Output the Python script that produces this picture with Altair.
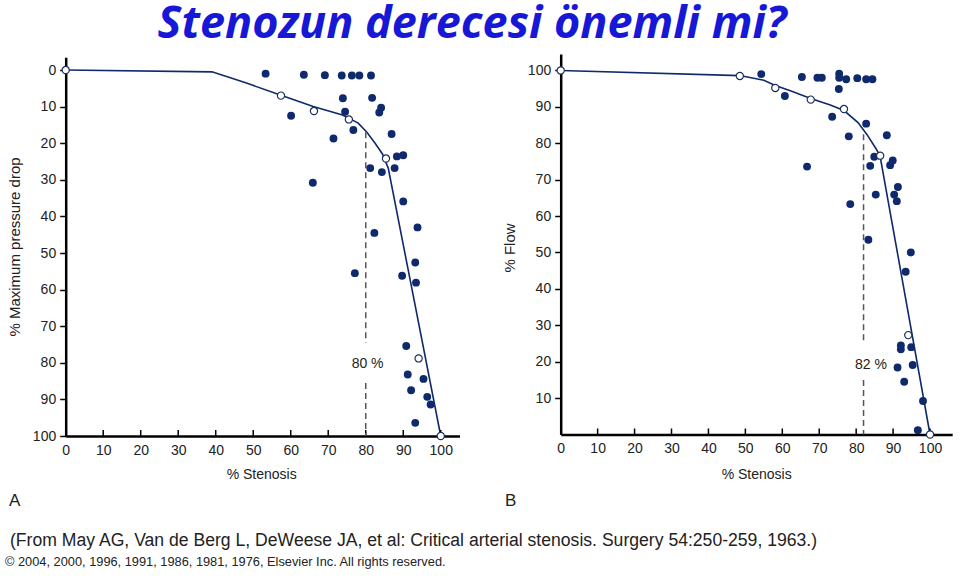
import altair as alt
import pandas as pd

# ---------------- data ----------------
# Panel A: % Stenosis vs % Maximum pressure drop
a_pts_x = [53.3, 63.5, 69.1, 73.6, 76.3, 78.3, 81.4, 73.9, 81.7, 60.1, 74.5, 84.1, 83.6, 76.7, 71.4, 86.9,
           88.3, 90.0, 81.2, 84.3, 87.7, 65.9, 90.0, 93.8, 82.3, 77.1, 89.7, 93.2, 93.4, 90.8, 91.2, 92.1,
           95.4, 96.4, 97.3, 93.2]
a_pts_y = [1.0, 1.3, 1.4, 1.5, 1.5, 1.5, 1.5, 7.7, 7.6, 12.5, 11.4, 10.3, 11.6, 16.4, 18.7, 17.5,
           23.6, 23.3, 26.8, 27.9, 26.8, 30.8, 35.9, 43.0, 44.5, 55.5, 56.2, 52.6, 58.1, 75.4, 83.2, 87.5,
           84.4, 89.3, 91.4, 96.4]
a_open_x = [0, 57.4, 66.2, 75.5, 85.4, 94.1, 100]
a_open_y = [0, 7.0, 11.2, 13.5, 24.2, 78.8, 100]
a_line_x = [0, 39, 48, 57.4, 66, 73.8, 78, 80.3, 82.5, 84.5, 86, 100]
a_line_y = [0, 0.5, 3.5, 6.9, 10.0, 12.3, 14.5, 17.0, 20.0, 23.0, 26.8, 100]
a_crit = 80
a_dash_y = [[17.0, 74.5], [85.5, 100]]
a_label = "80 %"
a_label_pos = (80.5, 80.4)

# Panel B: % Stenosis vs % Flow
b_pts_x = [54.3, 65.3, 69.5, 70.7, 75.4, 75.4, 77.3, 80.3, 82.7, 84.4, 75.3, 60.7, 73.5, 82.7, 78.0, 88.3,
           66.7, 84.9, 83.8, 89.2, 89.9, 91.3, 90.3, 91.0, 85.3, 78.4, 83.3, 94.8, 93.4, 92.1, 92.1, 94.9,
           91.2, 95.3, 93.0, 98.1, 96.7]
b_pts_y = [99.0, 98.2, 98.0, 98.0, 99.1, 98.0, 97.6, 97.9, 97.6, 97.6, 94.9, 93.0, 87.3, 85.4, 81.9, 82.2,
           73.6, 76.3, 73.8, 74.0, 75.3, 68.0, 65.9, 64.1, 65.9, 63.3, 53.5, 50.0, 44.7, 24.5, 23.4, 24.0,
           18.4, 19.1, 14.5, 9.2, 1.2]
b_open_x = [0, 48.5, 58.1, 67.7, 76.7, 86.5, 94.1, 100]
b_open_y = [100, 98.5, 95.2, 92.0, 89.4, 76.6, 27.3, 0]
b_line_x = [0, 48.5, 55, 58.1, 62, 67.7, 73, 76.7, 80.5, 83, 85.5, 86.5, 100]
b_line_y = [100, 98.6, 97.3, 95.9, 94.5, 92.3, 90.5, 89.0, 85.7, 82.3, 78.3, 76.3, 0]
b_crit = 82
b_dash_y = [[82.5, 25.5], [15.0, 0]]
b_label = "82 %"
b_label_pos = (84.0, 19.0)

tick_vals = [0, 10, 20, 30, 40, 50, 60, 70, 80, 90, 100]
b_ytick_vals = [10, 20, 30, 40, 50, 60, 70, 80, 90, 100]
inner_ticks = [10, 20, 30, 40, 50, 60, 70, 80, 90, 100]

main_title = "Stenozun derecesi önemli mi?"
source_note = "(From May AG, Van de Berg L, DeWeese JA, et al: Critical arterial stenosis. Surgery 54:250-259, 1963.)"
copyright_note = "© 2004, 2000, 1996, 1991, 1986, 1981, 1976, Elsevier Inc. All rights reserved."

# ---------------- styling ----------------
W, H = 960, 583
NAVY = "#0f2a6c"
FONT = "Liberation Sans"
TXT = "#222222"

panels = {
    "A": dict(xdom=[0, 105], xr=[65.7, 459.5], ydom=[-3.5, 100], yr=[57.2, 436.0], xaxis_y=436.0,
              yticks=tick_vals),
    "B": dict(xdom=[0, 106], xr=[560.7, 952.2], ydom=[0, 104.5], yr=[434.5, 54.1], xaxis_y=434.5,
              yticks=b_ytick_vals),
}


def scales_axes(p):
    c = panels[p]
    xax = alt.Axis(orient="bottom", offset=-(H - c["xaxis_y"]), values=tick_vals, ticks=False,
                   labelPadding=7, grid=False, title=None, domainColor="black", domainWidth=2.5,
                   labelFont=FONT, labelFontSize=14, labelColor=TXT, labelFlush=False,
                   labelOverlap=False)
    yax = alt.Axis(orient="left", offset=-c["xr"][0], values=c["yticks"], tickSize=6, tickWidth=1.5,
                   tickColor="black", labelPadding=4, grid=False, title=None, domainColor="black",
                   domainWidth=2.5, labelFont=FONT, labelFontSize=14, labelColor=TXT,
                   labelFlush=False, labelOverlap=False)
    xs = alt.Scale(domain=c["xdom"], range=c["xr"], zero=False, nice=False)
    ys = alt.Scale(domain=c["ydom"], range=c["yr"], zero=False, nice=False)
    return xs, ys, xax, yax


def panel_layers(p, pts_x, pts_y, open_x, open_y, line_x, line_y, crit, dash_y, label, label_pos, up):
    xs, ys, xax, yax = scales_axes(p)
    c = panels[p]
    layers = []
    line_df = pd.DataFrame({"x": line_x, "y": line_y, "o": list(range(len(line_x)))})
    layers.append(
        alt.Chart(line_df).mark_line(color=NAVY, strokeWidth=1.6).encode(
            x=alt.X("x:Q", scale=xs, axis=xax),
            y=alt.Y("y:Q", scale=ys, axis=yax),
            order="o:Q",
        )
    )
    # inward ticks on the x axis (6 px, expressed in data units)
    tick_len = 6.0 / abs((c["yr"][1] - c["yr"][0]) / (c["ydom"][1] - c["ydom"][0]))
    base_y = 100 if up == -1 else 0
    tdf = pd.DataFrame({"x": inner_ticks, "y": [base_y] * len(inner_ticks),
                        "y2": [base_y + up * tick_len] * len(inner_ticks)})
    layers.append(
        alt.Chart(tdf).mark_rule(color="black", strokeWidth=1.5).encode(
            x=alt.X("x:Q", scale=xs, axis=None),
            y=alt.Y("y:Q", scale=ys, axis=None),
            y2="y2:Q",
        )
    )
    ddf = pd.DataFrame({"x": [crit] * len(dash_y), "y": [d[0] for d in dash_y], "y2": [d[1] for d in dash_y]})
    layers.append(
        alt.Chart(ddf).mark_rule(color="#555555", strokeWidth=1.5, strokeDash=[6, 4]).encode(
            x=alt.X("x:Q", scale=xs, axis=None),
            y=alt.Y("y:Q", scale=ys, axis=None),
            y2="y2:Q",
        )
    )
    pdf = pd.DataFrame({"x": pts_x, "y": pts_y})
    layers.append(
        alt.Chart(pdf).mark_point(filled=True, shape="circle", size=62, color=NAVY, opacity=1).encode(
            x=alt.X("x:Q", scale=xs, axis=None),
            y=alt.Y("y:Q", scale=ys, axis=None),
        )
    )
    odf = pd.DataFrame({"x": open_x, "y": open_y})
    layers.append(
        alt.Chart(odf).mark_point(shape="circle", size=52, fill="white", stroke="#1b2f5c",
                                  strokeWidth=1.2, opacity=1, fillOpacity=1).encode(
            x=alt.X("x:Q", scale=xs, axis=None),
            y=alt.Y("y:Q", scale=ys, axis=None),
        )
    )
    ldf = pd.DataFrame({"x": [label_pos[0]], "y": [label_pos[1]], "t": [label]})
    layers.append(
        alt.Chart(ldf).mark_text(font=FONT, fontSize=14, color=TXT, align="center", baseline="middle").encode(
            x=alt.X("x:Q", scale=xs, axis=None),
            y=alt.Y("y:Q", scale=ys, axis=None),
            text="t:N",
        )
    )
    return layers


def fixed_text(t, x, y, size, font=FONT, color=TXT, align="left", baseline="alphabetic", angle=0,
               weight="normal", style="normal"):
    kw = dict(font=font, fontSize=size, color=color, align=align, baseline=baseline,
              fontWeight=weight, fontStyle=style)
    if angle:
        kw["angle"] = angle
    return alt.Chart(pd.DataFrame({"t": [t]})).mark_text(**kw).encode(
        x=alt.value(x), y=alt.value(y), text="t:N"
    )


layers = []
layers += panel_layers("A", a_pts_x, a_pts_y, a_open_x, a_open_y, a_line_x, a_line_y, a_crit, a_dash_y,
                       a_label, a_label_pos, up=-1)
layers += panel_layers("B", b_pts_x, b_pts_y, b_open_x, b_open_y, b_line_x, b_line_y, b_crit, b_dash_y,
                       b_label, b_label_pos, up=1)

# annotations
layers += [
    fixed_text(main_title, 472, 38, 45, font="Open Sans", color="#1717d6", align="center", weight="bold",
               style="italic"),
    fixed_text("% Maximum pressure drop", 15, 247, 15, align="center", baseline="middle", angle=270),
    fixed_text("% Flow", 510, 248, 15, align="center", baseline="middle", angle=270),
    fixed_text("% Stenosis", 261.7, 479, 14, align="center"),
    fixed_text("% Stenosis", 756.7, 479, 14, align="center"),
    fixed_text("A", 9, 506, 17),
    fixed_text("B", 505, 506, 17),
    fixed_text(source_note, 10, 546, 17.6),
    fixed_text(copyright_note, 5, 566, 12.8),
]

chart = (
    alt.layer(*layers)
    .resolve_scale(x="independent", y="independent")
    .resolve_axis(x="independent", y="independent")
    .properties(width=W, height=H, autosize=alt.AutoSizeParams(type="none"), padding=0, background="white")
    .configure_view(stroke=None)
)

chart.save("out.html", embed_options={"renderer": "svg", "actions": False})
